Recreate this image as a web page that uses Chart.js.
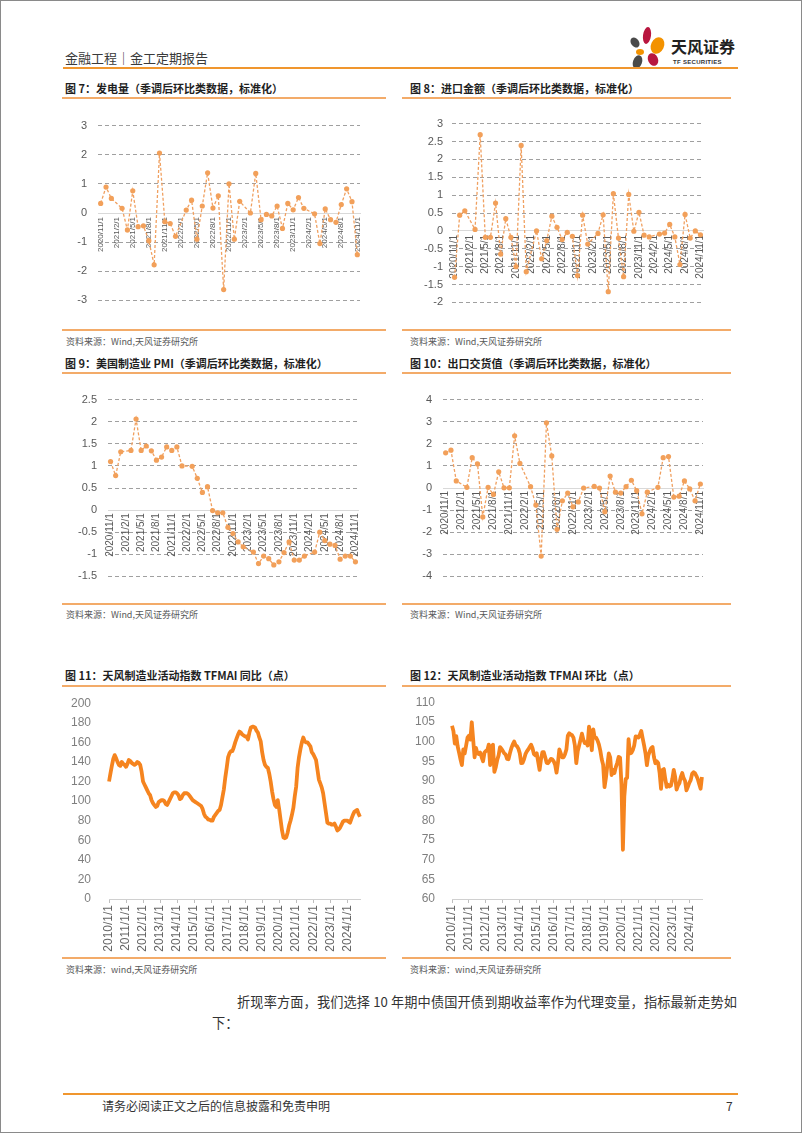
<!DOCTYPE html>
<html lang="zh-CN">
<head>
<meta charset="UTF-8">
<title>金工定期报告</title>
<script src="https://cdn.jsdelivr.net/npm/chart.js"></script>
<style>
  html, body { margin: 0; padding: 0; background: #fff; }
  #page { position: relative; width: 802px; height: 1133px; overflow: hidden;
          font-family: "Noto Sans CJK SC", sans-serif; color: #222; }
  #frame { position: absolute; left: 0; top: 0; width: 802px; height: 1133px;
           box-sizing: border-box; border: 1px solid #8a8a8a; pointer-events: none; }
  .abs { position: absolute; white-space: nowrap; }
  .ttl { position: absolute; font-size: 11px; font-weight: bold; line-height: 16px; color: #1f1f1f; white-space: nowrap; }
  .src { position: absolute; font-size: 9px; line-height: 12px; color: #595959; white-space: nowrap; }
  .rule { position: absolute; height: 2px; background: #f3ab69; }
  .box { position: absolute; }
  .petal { position: absolute; border-radius: 50%; }
  canvas { display: block; }
</style>
</head>
<body>
<div id="page">
  <!-- 页眉 -->
  <div class="abs" style="left:65px;top:49px;font-size:13px;line-height:18px;color:#3a3a3a;">金融工程｜金工定期报告</div>
  <div class="petal" style="left:631px;top:37px;width:8px;height:11px;background:#4a4a4a;transform:rotate(-35deg)"></div>
  <div class="petal" style="left:643px;top:27px;width:8px;height:17px;background:#b8163f;transform:rotate(8deg)"></div>
  <div class="petal" style="left:651px;top:37px;width:13px;height:17px;background:#f39200;transform:rotate(25deg)"></div>
  <div class="petal" style="left:636px;top:49px;width:8px;height:6px;background:#f39200"></div>
  <div class="petal" style="left:633px;top:55px;width:9px;height:14px;background:#4a4a4a;transform:rotate(20deg)"></div>
  <div class="petal" style="left:648px;top:53px;width:10px;height:13px;background:#b8163f;transform:rotate(-25deg)"></div>
  <div class="abs" style="left:671px;top:36px;font-size:16px;line-height:20px;font-weight:bold;color:#222">天风证券</div>
  <div class="abs" style="left:673px;top:58px;font-size:6px;line-height:8px;font-weight:bold;color:#333;font-family:'Liberation Sans',Arial,sans-serif;letter-spacing:0.3px">TF SECURITIES</div>
  <div class="rule" style="left:63px;top:67px;width:675px;background:#f0962e"></div>

  <!-- 第一行 -->
  <div class="ttl" style="left:65px;top:80px">图 7：发电量（季调后环比类数据，标准化）</div>
  <div class="ttl" style="left:410px;top:80px">图 8：进口金额（季调后环比类数据，标准化）</div>
  <div class="rule" style="left:62px;top:97px;width:324px"></div>
  <div class="rule" style="left:402px;top:97px;width:329px"></div>
  <div class="box" style="left:60px;top:108px"><canvas id="c7" width="330" height="210"></canvas></div>
  <div class="box" style="left:402px;top:108px"><canvas id="c8" width="330" height="210"></canvas></div>
  <div class="rule" style="left:62px;top:329px;width:324px"></div>
  <div class="rule" style="left:402px;top:329px;width:329px"></div>
  <div class="src" style="left:66px;top:336px">资料来源：Wind,天风证券研究所</div>
  <div class="src" style="left:410px;top:336px">资料来源：Wind,天风证券研究所</div>

  <!-- 第二行 -->
  <div class="ttl" style="left:65px;top:355px">图 9：美国制造业 PMI（季调后环比类数据，标准化）</div>
  <div class="ttl" style="left:410px;top:355px">图 10：出口交货值（季调后环比类数据，标准化）</div>
  <div class="rule" style="left:62px;top:372px;width:324px"></div>
  <div class="rule" style="left:402px;top:372px;width:329px"></div>
  <div class="box" style="left:60px;top:382px"><canvas id="c9" width="330" height="212"></canvas></div>
  <div class="box" style="left:402px;top:382px"><canvas id="c10" width="330" height="212"></canvas></div>
  <div class="rule" style="left:62px;top:603px;width:324px"></div>
  <div class="rule" style="left:402px;top:603px;width:329px"></div>
  <div class="src" style="left:66px;top:609px">资料来源：Wind,天风证券研究所</div>
  <div class="src" style="left:410px;top:609px">资料来源：Wind,天风证券研究所</div>

  <!-- 第三行 -->
  <div class="ttl" style="left:65px;top:667px">图 11：天风制造业活动指数 TFMAI 同比（点）</div>
  <div class="ttl" style="left:410px;top:667px">图 12：天风制造业活动指数 TFMAI 环比（点）</div>
  <div class="rule" style="left:62px;top:685px;width:324px"></div>
  <div class="rule" style="left:402px;top:685px;width:329px"></div>
  <div class="rule" style="left:62px;top:957px;width:324px"></div>
  <div class="rule" style="left:402px;top:957px;width:329px"></div>
  <div class="box" style="left:60px;top:686px"><canvas id="c11" width="330" height="272"></canvas></div>
  <div class="box" style="left:402px;top:686px"><canvas id="c12" width="330" height="272"></canvas></div>
  <div class="src" style="left:66px;top:964px">资料来源：wind,天风证券研究所</div>
  <div class="src" style="left:410px;top:964px">资料来源：wind,天风证券研究所</div>

  <!-- 正文 -->
  <div class="abs" style="left:237px;top:991px;width:500px;font-size:13.2px;line-height:22px;text-align:justify;text-align-last:justify;color:#333">折现率方面，我们选择 10 年期中债国开债到期收益率作为代理变量，指标最新走势如</div>
  <div class="abs" style="left:212px;top:1012px;font-size:13.2px;line-height:22px;color:#333">下：</div>

  <!-- 页脚 -->
  <div class="rule" style="left:63px;top:1093px;width:675px;background:#f0962e"></div>
  <div class="abs" style="left:102px;top:1098px;font-size:12px;line-height:16px;color:#333">请务必阅读正文之后的信息披露和免责申明</div>
  <div class="abs" style="left:726px;top:1098px;font-size:12px;line-height:16px;color:#333">7</div>

  <div id="frame"></div>
</div>

<script>
    // 月份标签
    function monthLabels(y, m, n) {
        const out = [];
        for (let i = 0; i < n; i++) {
            out.push(y + '/' + m + '/1');
            m++;
            if (m > 12) { m = 1; y++; }
        }
        return out;
    }

    const qMonths = monthLabels(2020, 11, 49);   // 2020/11 - 2024/11
    const tfMonths = monthLabels(2010, 1, 178);  // 2010/1 - 2024/10

    // 图7 发电量
    const powerGen = [0.33, 0.89, 0.50, null, 0.16, -0.58, 0.76, -0.47, -0.44, -0.95, -1.78, 2.06,
        -0.30, -0.36, -0.80, null, 0.10, 0.44, -0.90, 0.24, 1.38, 0.17, 0.59, -2.63,
        1.00, -0.90, 0.40, null, 0.00, 1.36, -0.23, -0.05, -0.10, 0.24, -0.53, 0.33,
        0.11, 0.53, 0.16, null, -0.03, -1.05, 0.14, -0.23, -0.32, 0.29, 0.83, 0.39, -1.43];

    // 图8 进口金额
    const imports = [-1.30, 0.44, 0.56, null, 0.04, 2.69, -0.18, -0.18, 0.78, -0.65, 0.34, -0.18,
        -1.00, 2.39, -1.14, null, 0.00, -0.78, -0.27, 0.41, 0.10, -0.24, -0.04, -0.15,
        -1.25, 0.44, -0.37, null, -0.07, 0.45, -1.70, 1.04, -0.20, -1.28, 1.02, -0.01,
        0.52, -0.12, -0.17, null, -0.09, -0.06, 0.18, -0.17, -0.94, 0.46, -0.20, 0.00, -0.11];

    // 图9 美国制造业PMI
    const usPmi = [1.10, 0.78, 1.32, null, 1.35, 2.06, 1.35, 1.45, 1.34, 1.13, 1.20, 1.43,
        1.35, 1.43, 1.00, null, 0.99, 0.72, 0.40, 0.53, -0.01, -0.06, -0.06, -0.39,
        -0.53, -0.72, -0.83, null, -0.95, -1.21, -1.04, -1.10, -1.24, -1.17, -0.96, -0.72,
        -1.13, -1.13, -1.04, null, -0.95, -0.50, -0.69, -0.77, -0.80, -1.11, -1.04, -1.04, -1.17];

    // 图10 出口交货值
    const exportDel = [1.59, 1.71, 0.32, null, 0.03, 1.37, 1.09, -1.31, 0.03, -0.29, 0.73, 0.01,
        0.01, 2.36, 1.11, null, 0.06, -0.77, -3.08, 2.95, 1.45, -1.87, -0.58, -0.23,
        -0.85, -0.63, 0.00, null, 0.07, 0.00, -1.07, 0.54, -0.19, -0.23, 0.06, 0.35,
        -0.12, -1.17, -0.19, null, 0.03, 1.37, 1.42, -0.41, -0.37, 0.32, -0.04, -0.58, 0.18];

    // 图11 TFMAI 同比
    const tfmaiYoY = [
        120, 128, 136, 143, 147, 144, 140, 137, 136, 140, 138, 137,
        135, 138, 142, 141, 139, 138, 137, 138, 140, 139, 137, 130,
        120, 117, 114, 111, 108, 106, 101, 98, 96, 94, 95, 99,
        100, 101, 101, 100, 97, 96, 99, 102, 105, 108, 109, 109,
        108, 106, 102, 103, 106, 108, 108, 108, 107, 105, 103, 101,
        100, 99, 98, 97, 96, 95, 92, 87, 84, 83, 81, 81,
        80, 80, 84, 86, 88, 90, 91, 96, 104, 112, 124, 134,
        145, 149, 151, 151, 155, 160, 164, 168, 171, 170, 168, 167,
        166, 166, 163, 170, 175, 176, 176, 175, 172, 170, 165, 161,
        150, 142, 137, 135, 134, 128, 120, 110, 102, 96, 94, 101,
        92, 81, 70, 63, 62, 63, 68, 75, 80, 86, 93, 105,
        115, 134, 145, 153, 160, 165, 161, 160, 160, 158, 156, 150,
        148, 145, 142, 132, 122, 118, 114, 108, 98, 88, 78, 77,
        77, 76, 76, 77, 74, 70, 71, 73, 76, 79, 80, 80,
        80, 79, 78, 82, 86, 89, 90, 91, 87, 84];

    // 图12 TFMAI 环比
    const tfmaiMoM = [
        104.0, 102.7, 99.5, 101.4, 98.8, 97.2, 95.5, 94.0, 98.0, 97.0, 99.0, 101.0,
        101.5, 100.5, 104.9, 100.5, 96.0, 98.4, 97.0, 96.8, 97.2, 96.0, 95.0, 97.2,
        97.6, 97.8, 99.2, 94.0, 98.8, 99.2, 92.3, 93.5, 95.3, 96.5, 98.6, 98.2,
        97.6, 97.0, 96.7, 95.6, 95.5, 97.0, 98.3, 99.3, 100.0, 99.1, 98.8, 98.2,
        97.0, 94.5, 94.6, 95.5, 96.8, 97.5, 98.0, 98.6, 99.2, 98.3, 96.8, 96.5,
        97.0, 94.9, 92.8, 95.5, 97.3, 97.3, 96.0, 94.6, 94.5, 95.0, 95.6, 95.5,
        95.0, 94.1, 92.1, 94.6, 98.0, 97.0, 96.0, 96.0, 96.8, 98.0, 101.5, 102.1,
        101.8, 101.6, 101.0, 99.0, 94.5, 97.5, 99.0, 100.5, 102.0, 100.5, 99.6, 99.8,
        99.0, 103.8, 101.5, 97.8, 103.1, 101.0, 101.0, 100.3, 99.3, 97.7, 95.5, 94.1,
        88.4, 90.8, 94.0, 97.0, 96.0, 91.5, 92.8, 92.0, 93.5, 94.6, 96.1, 95.9,
        89.0, 72.5, 86.0, 90.5, 90.8, 100.6, 97.0, 97.1, 97.8, 99.0, 101.3, 101.2,
        101.0, 101.8, 102.7, 100.8, 99.0, 97.0, 94.0, 96.5, 97.5, 98.3, 98.6, 96.0,
        94.5, 95.0, 94.5, 92.0, 88.0, 92.8, 93.0, 90.5, 88.5, 89.0, 88.6, 88.8,
        90.5, 92.8, 91.0, 87.8, 88.8, 89.4, 91.0, 92.0, 90.7, 90.0, 87.6, 88.5,
        89.5, 90.2, 91.8, 92.2, 92.0, 91.3, 90.5, 89.2, 88.0, 91.0];

    const NUM_FONT = "'Liberation Sans', Arial, sans-serif";
    Chart.defaults.font.family = NUM_FONT;

    // 刻度数字：去掉多余的小数位
    const plainNum = v => String(Math.round(v * 10) / 10);

    // 小图：季调后环比，虚线加圆点
    function smallChart(id, data, yMin, yMax, step, lay) {
        new Chart(document.getElementById(id), {
            type: 'line',
            data: {
                labels: qMonths,
                datasets: [{
                    data: data,
                    spanGaps: true,
                    borderColor: '#f0a060',
                    borderWidth: 1.3,
                    borderDash: [3, 2],
                    tension: 0,
                    pointRadius: 2.6,
                    pointBackgroundColor: '#f2a05a',
                    pointBorderWidth: 0
                }]
            },
            options: {
                responsive: false,
                animation: false,
                events: [],
                layout: { padding: { left: 0, right: lay.right, top: lay.top, bottom: lay.bottom } },
                plugins: { legend: { display: false }, tooltip: { enabled: false } },
                scales: {
                    x: {
                        position: { y: 0 },
                        offset: true,
                        afterFit: s => { s.height = 0; },
                        grid: { display: true, drawOnChartArea: false, drawTicks: false },
                        border: { display: true, color: '#d9d9d9', width: 1 },
                        ticks: {
                            autoSkip: false, minRotation: 90, maxRotation: 90,
                            padding: lay.xPad,
                            color: '#595959',
                            font: { size: lay.xFont },
                            callback: (v, i) => (i % 3 === 0 ? qMonths[i] : '')
                        }
                    },
                    y: {
                        min: yMin, max: yMax,
                        afterFit: s => { s.width = lay.yW; },
                        ticks: { stepSize: step, padding: lay.yPad, color: '#595959', font: { size: 11 }, callback: plainNum },
                        grid: {
                            drawTicks: false,
                            lineWidth: 1,
                            color: c => (c.tick && c.tick.value === 0 ? 'rgba(0,0,0,0)' : '#a0a0a0')
                        },
                        border: { display: false, dash: [4, 3] }
                    }
                }
            }
        });
    }

    // 大图：TFMAI 实线
    function tfChart(id, data, yMin, yMax, step, lay) {
        new Chart(document.getElementById(id), {
            type: 'line',
            data: {
                labels: tfMonths,
                datasets: [{
                    data: data,
                    borderColor: '#f5841f',
                    borderWidth: 3.8,
                    tension: 0,
                    pointRadius: 0,
                    borderJoinStyle: 'round'
                }]
            },
            options: {
                responsive: false,
                animation: false,
                events: [],
                layout: { padding: { left: 0, right: lay.right, top: lay.top, bottom: lay.bottom } },
                plugins: { legend: { display: false }, tooltip: { enabled: false } },
                scales: {
                    x: {
                        offset: false,
                        afterFit: s => { s.height = 58; },
                        grid: {
                            display: true, drawOnChartArea: false, drawTicks: true, tickLength: 4,
                            color: c => (c.index % 12 === 0 ? '#bfbfbf' : 'rgba(0,0,0,0)')
                        },
                        border: { display: true, color: '#d0d0d0', width: 1 },
                        ticks: {
                            autoSkip: false, minRotation: 90, maxRotation: 90, padding: 2,
                            color: '#666666',
                            font: { size: 12 },
                            callback: (v, i) => (i % 12 === 0 ? tfMonths[i] : '')
                        }
                    },
                    y: {
                        min: yMin, max: yMax,
                        afterFit: s => { s.width = lay.yW; },
                        ticks: { stepSize: step, padding: lay.yPad, color: '#7f7f7f', font: { size: 12 }, callback: plainNum },
                        grid: { display: false },
                        border: { display: false }
                    }
                }
            }
        });
    }

    smallChart('c7', powerGen, -3, 3, 1, { yW: 38, yPad: 11, right: 30, top: 14, bottom: 13, xFont: 8, xPad: 4 });
    smallChart('c8', imports, -2, 3, 0.5, { yW: 50, yPad: 9, right: 29, top: 14, bottom: 14, xFont: 10, xPad: 4 });
    smallChart('c9', usPmi, -1.5, 2.5, 0.5, { yW: 48, yPad: 11, right: 32, top: 14, bottom: 15, xFont: 10, xPad: 3 });
    smallChart('c10', exportDel, -4, 4, 1, { yW: 41, yPad: 11, right: 29, top: 14, bottom: 15, xFont: 10, xPad: 3 });
    tfChart('c11', tfmaiYoY, 0, 200, 20, { yW: 49, yPad: 10, right: 30, top: 10, bottom: 1 });
    tfChart('c12', tfmaiMoM, 60, 110, 5, { yW: 50, yPad: 9, right: 30, top: 9, bottom: 1 });
</script>
</body>
</html>
